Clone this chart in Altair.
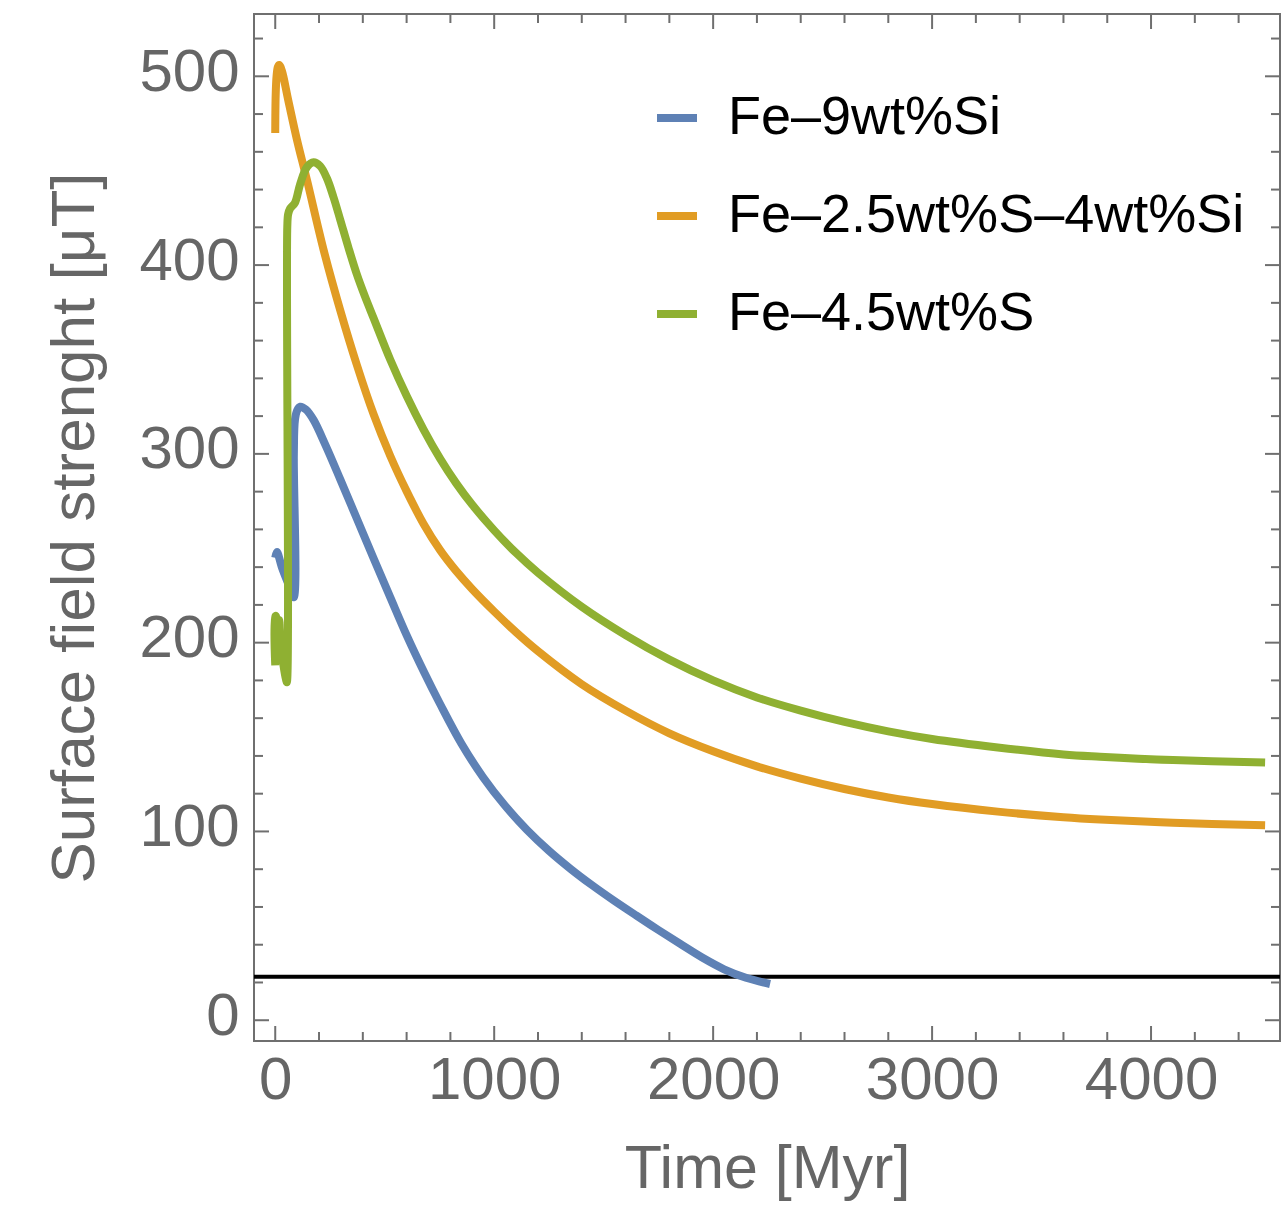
import altair as alt
import pandas as pd

series_names = ["Fe–9wt%Si", "Fe–2.5wt%S–4wt%Si", "Fe–4.5wt%S"]
series_colors = ["#5E81B5", "#E19C24", "#8FB032"]

# Fe-9wt%Si
blue_t = [0, 8, 30, 60, 84, 85, 90, 100, 114, 140, 175, 230, 297, 373, 449, 525, 601,
          680, 753, 850, 950, 1050, 1150, 1250, 1350, 1450, 1543, 1650, 1750, 1850, 1950,
          2050, 2150, 2260]
blue_b = [245, 248, 240, 231, 224, 300, 318, 323, 325, 323.5, 318, 304.5, 286.5, 265.6,
          244.7, 224.1, 203.7, 184.3, 167.5, 146.6, 128.6, 113.6, 100.8, 89.8, 80.1, 71.3,
          63.7, 55.4, 47.8, 40.4, 33.2, 27.0, 22.5, 19.2]

# Fe-2.5wt%S-4wt%Si
orange_t = [0, 2, 6, 12, 18, 30, 60, 100, 145, 221, 297, 373, 449, 525, 601, 677, 753,
            826, 900, 1000, 1100, 1200, 1400, 1600, 1800, 2000, 2200, 2400, 2600, 2800,
            3000, 3300, 3600, 3767, 4100, 4521]
orange_b = [470, 490, 500, 505, 506, 503, 487, 466, 445, 408, 376, 347, 321, 299, 280,
            263, 249, 238, 228.3, 216.5, 205.5, 195.5, 178, 164, 152, 142.5, 134.5, 128,
            122.5, 118, 114.5, 110.5, 107.5, 106.3, 104.6, 103.3]

# Fe-4.5wt%S
green_t = [0, 0, 4, 12, 18, 25, 50, 53, 55, 59, 68, 90, 114, 145, 175, 205, 236, 266,
           297, 335, 373, 411, 449, 525, 601, 677, 753, 826, 900, 1000, 1100, 1200, 1400,
           1600, 1800, 2000, 2200, 2400, 2600, 2800, 3000, 3300, 3600, 3767, 4100, 4521]
green_b = [188, 214, 214, 207, 212, 200, 180, 179, 420, 427, 430, 433, 443, 452, 454.5,
           452.5, 446, 436, 424, 409, 395, 383, 372, 350, 330.5, 313, 297.5, 284.5, 273,
           259.5, 247.5, 237, 219, 204, 191, 180, 171, 164, 158, 153, 149, 144.5, 140.8,
           139.6, 137.8, 136.5]

threshold = [23]

x_major = [0, 1000, 2000, 3000, 4000]
x_minor = [v for v in range(200, 4600, 200) if v % 1000 != 0]
y_major = [0, 100, 200, 300, 400, 500]
y_minor = [v for v in range(20, 540, 20) if v % 100 != 0]

x_domain = [-97, 4589]
y_domain = [-11, 533]

W, H = 1026, 1027
FRAME = "#6f6f6f"
LABEL = "#666666"
FONT = "Liberation Sans"

rows = []
for name, ts, bs in [(series_names[0], blue_t, blue_b),
                     (series_names[1], orange_t, orange_b),
                     (series_names[2], green_t, green_b)]:
    for i, (t, b) in enumerate(zip(ts, bs)):
        rows.append({"series": name, "t": t, "B": b, "i": i})
df = pd.DataFrame(rows)

xs = alt.Scale(domain=x_domain, nice=False, zero=False)
ys = alt.Scale(domain=y_domain, nice=False, zero=False)

X_AXIS = alt.Axis(values=x_major, format="d", title="Time [Myr]", ticks=False,
                  domain=False, grid=False, labelFontSize=60, labelColor=LABEL,
                  labelFont=FONT, labelPadding=10, titleFontSize=61, titleColor=LABEL,
                  titleFont=FONT, titleFontWeight="normal", titlePadding=29,
                  labelFlush=False)
Y_AXIS = alt.Axis(values=y_major, format="d", title="Surface field strenght [μT]",
                  ticks=False, domain=False, grid=False, labelFontSize=60,
                  labelColor=LABEL, labelFont=FONT, labelPadding=15, labelOffset=-4,
                  titleFontSize=62, titleColor=LABEL, titleFont=FONT,
                  titleFontWeight="normal", titlePadding=32, labelFlush=False)

lines = alt.Chart(df).mark_line(strokeWidth=8, strokeCap="butt", strokeJoin="round",
                                interpolate="catmull-rom").encode(
    x=alt.X("t:Q", scale=xs, axis=X_AXIS),
    y=alt.Y("B:Q", scale=ys, axis=Y_AXIS),
    color=alt.Color("series:N",
                    scale=alt.Scale(domain=series_names, range=series_colors),
                    sort=series_names,
                    legend=alt.Legend(title=None, orient="none", legendX=396, legendY=77,
                                      symbolType="stroke", symbolStrokeWidth=8,
                                      symbolSize=1600, labelFontSize=54, labelFont=FONT,
                                      labelColor="black", labelOffset=24, rowPadding=44,
                                      labelLimit=0, padding=0)),
    order=alt.Order("i:Q"),
    detail="series:N",
)

thr = alt.Chart(pd.DataFrame({"y": threshold})).mark_rule(color="black", strokeWidth=4).encode(
    y=alt.Y("y:Q", scale=ys, axis=Y_AXIS)
)

def vticks(vals, length, top):
    d = pd.DataFrame({"v": vals})
    y1, y2 = (0, length) if top else (H, H - length)
    return alt.Chart(d).mark_rule(color=FRAME, strokeWidth=2).encode(
        x=alt.X("v:Q", scale=xs, axis=X_AXIS), y=alt.value(y1), y2=alt.value(y2))

def hticks(vals, length, left):
    d = pd.DataFrame({"v": vals})
    x1, x2 = (0, length) if left else (W, W - length)
    return alt.Chart(d).mark_rule(color=FRAME, strokeWidth=2).encode(
        y=alt.Y("v:Q", scale=ys, axis=Y_AXIS), x=alt.value(x1), x2=alt.value(x2))

tick_layers = [
    vticks(x_major, 15, False), vticks(x_minor, 9, False),
    vticks(x_major, 15, True), vticks(x_minor, 9, True),
    hticks(y_major, 15, True), hticks(y_minor, 9, True),
    hticks(y_major, 15, False), hticks(y_minor, 9, False),
]

chart = alt.layer(*tick_layers, thr, lines).properties(
    width=W, height=H,
    autosize=alt.AutoSizeParams(type="none"),
    padding={"left": 254, "top": 14, "right": 1, "bottom": 169},
    background="white",
).configure_view(stroke=FRAME, strokeWidth=2)

chart.save("out.html", embed_options={"renderer": "svg", "actions": False})
